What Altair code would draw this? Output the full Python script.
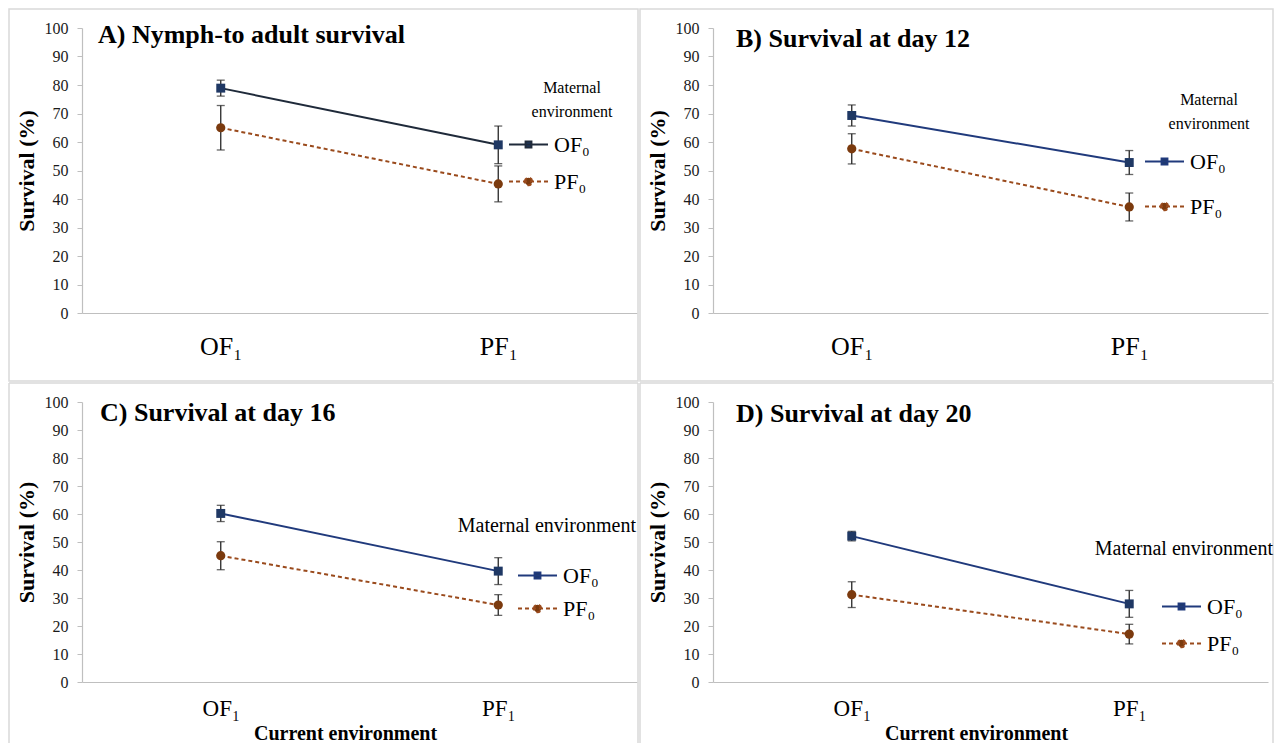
import altair as alt
import pandas as pd

# ---------------- data ----------------
categories = ["OF₁", "PF₁"]          # current environment (x axis)
maternal = ["OF₀", "PF₀"]            # maternal environment (series)
panel_titles = [
    "A) Nymph-to adult survival",
    "B) Survival at day 12",
    "C) Survival at day 16",
    "D) Survival at day 20",
]
of0_mean = [[78.9, 59.0], [69.3, 52.8], [60.2, 39.6], [52.1, 27.9]]
of0_err = [[2.8, 6.6], [3.7, 4.2], [2.9, 4.8], [1.7, 4.8]]
pf0_mean = [[65.0, 45.3], [57.6, 37.2], [45.1, 27.5], [31.2, 17.1]]
pf0_err = [[7.8, 6.3], [5.3, 4.9], [5.0, 3.7], [4.6, 3.5]]
y_ticks = [0, 10, 20, 30, 40, 50, 60, 70, 80, 90, 100]
legend_title_two = ["Maternal", "environment"]
legend_title_one = ["Maternal environment"]
x_title = "Current environment"
y_title = "Survival (%)"

# ---------------- styling ----------------
SERIF = "Liberation Serif"
W = 555
NAVY_PT = "#1f3864"
BROWN_LINE = "#9a4a1c"
BROWN_PT = "#7b3a0e"
ERR = "#262626"
GRID_GRAY = "#bfbfbf"
BOX = "#d9d9d9"

SQ_PATH = "M-1,0H1M-0.15,-0.15H0.15V0.15H-0.15Z"
CI_PATH = "M-1,0H1M-0.19,0A0.19,0.19 0 1,1 0.19,0A0.19,0.19 0 1,1 -0.19,0Z"

panels_cfg = [
    dict(h=285, bottom=False, line_of="#1f2a3a", tx=16, ty=7, box_r=556,
         lt=dict(lines=legend_title_two, x=490, y=60, size=16, align="center"),
         leg=dict(x=426, y=96, rpad=5)),
    dict(h=285, bottom=False, line_of="#203a7c", tx=23, ty=11, box_r=560,
         lt=dict(lines=legend_title_two, x=496, y=72, size=16, align="center"),
         leg=dict(x=431, y=113, rpad=13)),
    dict(h=280, bottom=True, line_of="#203a7c", tx=18, ty=11, box_r=556,
         lt=dict(lines=legend_title_one, x=554, y=124, size=20, align="right"),
         leg=dict(x=435, y=153, rpad=1)),
    dict(h=280, bottom=True, line_of="#203a7c", tx=23, ty=12, box_r=560,
         lt=dict(lines=legend_title_one, x=560, y=147, size=20, align="right"),
         leg=dict(x=448, y=184, rpad=5)),
]


def make_df(i):
    rows = []
    for m, means, errs in ((maternal[0], of0_mean[i], of0_err[i]),
                           (maternal[1], pf0_mean[i], pf0_err[i])):
        for c, v, e in zip(categories, means, errs):
            rows.append({"env": c, "m": m, "v": v,
                         "lo": round(v - e, 2), "hi": round(v + e, 2)})
    return pd.DataFrame(rows)


def panel(i):
    cfg = panels_cfg[i]
    df = make_df(i)
    base = alt.Chart(df)
    bottom = cfg["bottom"]

    x_axis = alt.Axis(
        title=x_title if bottom else None,
        labelAngle=0, ticks=False, tickSize=0,
        labelFont=SERIF, labelFontSize=23 if bottom else 26, labelColor="#000",
        labelPadding=15 if bottom else 20,
        domainColor=GRID_GRAY, domainWidth=1.2,
        titleFont=SERIF, titleFontSize=20, titleFontWeight="bold", titleColor="#000",
        titlePadding=3, titleX=263,
    )
    y_axis = alt.Axis(
        values=y_ticks, title=y_title, grid=False,
        labelFont=SERIF, labelFontSize=16, labelColor="#1a1a1a", labelPadding=9,
        tickColor=GRID_GRAY, tickSize=5, domainColor=GRID_GRAY, domainWidth=1.2,
        titleFont=SERIF, titleFontSize=22, titleFontWeight="bold", titleColor="#000",
        titlePadding=6,
    )
    xs = alt.Scale(type="point", padding=0.5, domain=categories)
    ys = alt.Scale(domain=[0, 100], nice=False, zero=True)
    X = alt.X("env:N", sort=categories, scale=xs, axis=x_axis)

    def Y(field):
        return alt.Y(f"{field}:Q", scale=ys, axis=y_axis)

    color_scale = alt.Scale(domain=maternal, range=[cfg["line_of"], BROWN_LINE])
    fill_scale = alt.Scale(domain=maternal, range=[NAVY_PT, BROWN_PT])
    shape_scale = alt.Scale(domain=maternal, range=[SQ_PATH, CI_PATH])
    dash_scale = alt.Scale(domain=maternal, range=[[1, 0], [4, 3]])

    lg = cfg["leg"]
    leg = alt.Legend(
        orient="none", legendX=lg["x"], legendY=lg["y"], title=None,
        direction="vertical", padding=0,
        labelFont=SERIF, labelFontSize=22, labelColor="#000", labelOffset=5,
        labelLimit=400,
        symbolSize=1521, symbolStrokeWidth=2, symbolOpacity=1,
        rowPadding=lg["rpad"],
    )

    one = pd.DataFrame({"k": [0]})
    br = cfg["box_r"]
    layers = []
    # panel frame (decoration)
    if not bottom:
        layers.append(alt.Chart(one).mark_rect(fillOpacity=0, stroke=BOX, strokeWidth=1.5).encode(
            x=alt.value(-73), x2=alt.value(br), y=alt.value(-19), y2=alt.value(353)))
    else:
        layers.append(alt.Chart(one).mark_rule(color=BOX, strokeWidth=1.5).encode(
            x=alt.value(-73), x2=alt.value(br), y=alt.value(-19)))
        layers.append(alt.Chart(one).mark_rule(color=BOX, strokeWidth=1.5).encode(
            x=alt.value(-73), y=alt.value(-19), y2=alt.value(341)))
        layers.append(alt.Chart(one).mark_rule(color=BOX, strokeWidth=1.5).encode(
            x=alt.value(br), y=alt.value(-19), y2=alt.value(341)))

    # error bars
    layers.append(base.mark_rule(color=ERR, strokeWidth=1.3).encode(
        x=X, y=Y("lo"), y2=alt.Y2("hi:Q")))
    layers.append(base.mark_tick(color=ERR, thickness=1.3, size=8, orient="horizontal").encode(
        x=X, y=Y("lo")))
    layers.append(base.mark_tick(color=ERR, thickness=1.3, size=8, orient="horizontal").encode(
        x=X, y=Y("hi")))
    # lines (one layer per maternal environment)
    layers.append(base.transform_filter(alt.datum.m == maternal[0]).mark_line(
        strokeWidth=2, color=cfg["line_of"]).encode(x=X, y=Y("v")))
    layers.append(base.transform_filter(alt.datum.m == maternal[1]).mark_line(
        strokeWidth=2, color=BROWN_LINE, strokeDash=[4, 3]).encode(x=X, y=Y("v")))
    # markers
    layers.append(base.transform_filter(alt.datum.m == maternal[0]).mark_point(
        filled=True, shape="square", size=80, color=NAVY_PT, opacity=1).encode(x=X, y=Y("v")))
    layers.append(base.transform_filter(alt.datum.m == maternal[1]).mark_point(
        filled=True, shape="circle", size=85, color=BROWN_PT, opacity=1).encode(x=X, y=Y("v")))
    # legend carrier (no visible marks)
    layers.append(base.transform_filter("false").mark_point(
        filled=False, opacity=1, strokeWidth=2).encode(
        color=alt.Color("m:N", scale=color_scale, legend=leg),
        fill=alt.Fill("m:N", scale=fill_scale, legend=leg),
        shape=alt.Shape("m:N", scale=shape_scale, legend=leg),
        strokeDash=alt.StrokeDash("m:N", scale=dash_scale, legend=leg),
    ))
    # legend title text
    lt = cfg["lt"]
    for k, line in enumerate(lt["lines"]):
        layers.append(alt.Chart(pd.DataFrame({"t": [line]})).mark_text(
            align=lt["align"], baseline="middle", font=SERIF, fontSize=lt["size"],
            color="#000").encode(x=alt.value(lt["x"]), y=alt.value(lt["y"] + 24 * k), text="t:N"))
    # panel title
    layers.append(alt.Chart(pd.DataFrame({"t": [panel_titles[i]]})).mark_text(
        align="left", baseline="middle", font=SERIF, fontSize=26, fontWeight="bold",
        color="#000").encode(x=alt.value(cfg["tx"]), y=alt.value(cfg["ty"]), text="t:N"))

    return alt.layer(*layers).properties(width=W, height=cfg["h"])


RES = dict(color="independent", fill="independent", shape="independent",
           strokeDash="independent")

top = alt.hconcat(panel(0), panel(1), spacing=0).resolve_scale(**RES)
bot = alt.hconcat(panel(2), panel(3), spacing=0).resolve_scale(**RES)
chart = (
    alt.vconcat(top, bot, spacing=0)
    .resolve_scale(**RES)
    .properties(padding=0, background="white")
    .configure_view(strokeWidth=0)
)

chart.save("out.html", embed_options={"renderer": "svg", "actions": False})
